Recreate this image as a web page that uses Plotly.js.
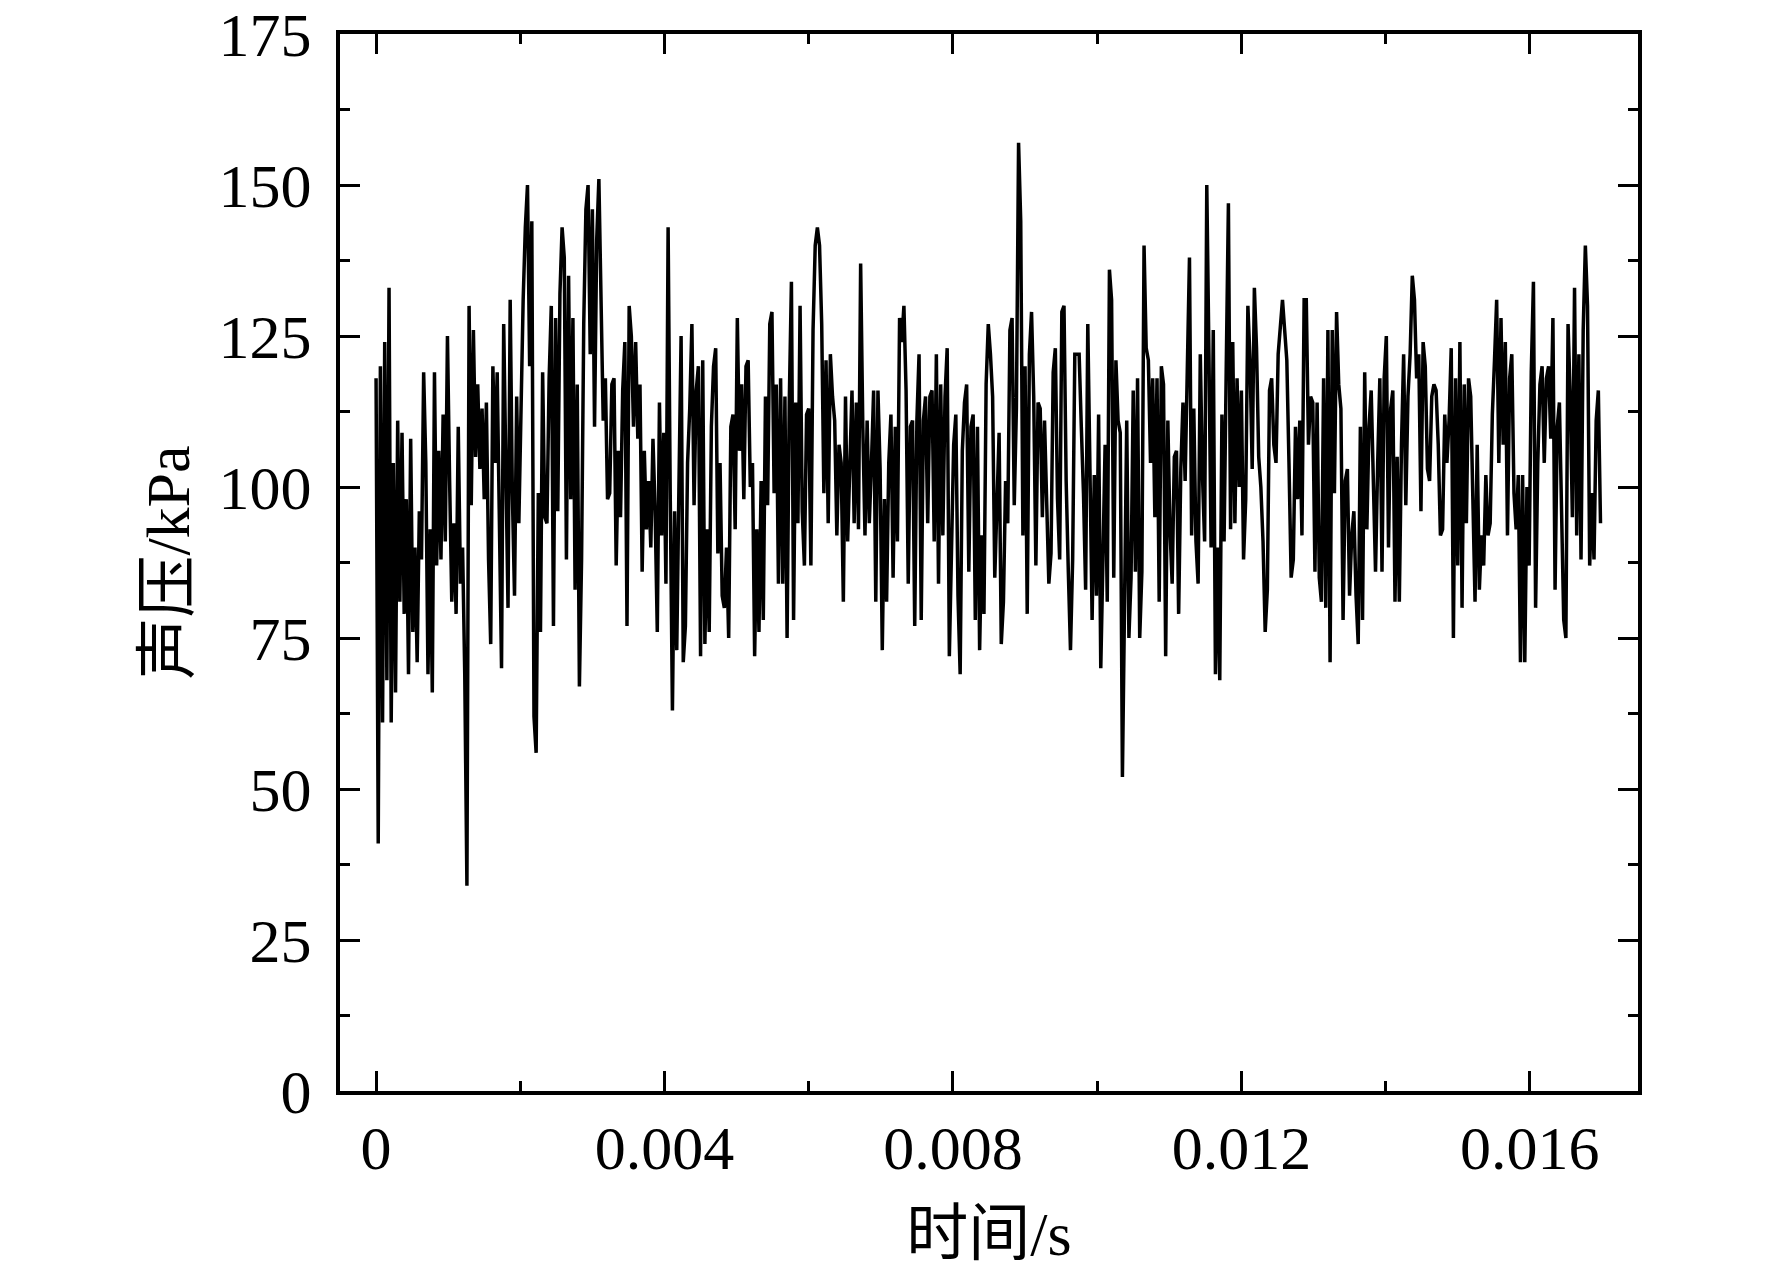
<!DOCTYPE html>
<html>
<head>
<meta charset="utf-8">
<script src="https://cdn.plot.ly/plotly-3.0.1.min.js"></script>
<style>
  html, body { margin: 0; padding: 0; background: #fff; }
  #grafico { width: 1772px; height: 1268px; }
</style>
</head>
<body>
<div id="grafico"></div>
<script>
// Señal de presión acústica leída del gráfico original, muestreada cada
// 3e-5 s (leída por tramos de izquierda a derecha; los valores son
// estimaciones a ojo de picos y valles, no una reconstrucción exacta).
const INTERVALO_S = 3e-5;

const presionTramo1 = [118,41,120,61,124,68,133,61,104,66,111,81,109,79,98,69,108,76,90,71,
  96,88,119,104,69,93,66,119,87,106,88,112,91,125,101,81,94,79,110,84,
  90,69,34,130,97,126,105,117,103,113,98,114,88,74,120,104,119,98,70,127,
  100,80,131,99,82,115,94,116,131,143,150,120,144,62,56,99,76,119,95];

const presionTramo2 = [94,118,130,77,128,96,132,143,138,88,135,98,128,83,117,67,88,127,146,150,
  122,146,110,141,151,132,111,118,98,99,117,118,87,106,95,116,124,77,130,125,
  110,124,108,117,86,106,93,101,90,108,96,76,114,92,109,84,143,98,63,96,
  73,100,125,71,77,104,113,127,97,116,120,72,121,74,93,76,110,120,123,89,
  104,82,80];

const presionTramo3 = [90,75,110,112,93,128,106,117,98,120,121,100,104,72,93,76,101,78,115,97,
  127,129,99,117,84,118,84,115,75,114,134,78,114,94,130,96,87,112,113,87,
  126,140,143,140,127,99,121,94,122,115,111,92,107,104,81,115,91,103,116,94,
  114,93,137,110,92,111,94,104,116,81,116,103,73,98,81,104,112,85,110,91,
  128,124,130];

const presionTramo4 = [116,84,110,111,77,111,122,78,111,115,94,115,116,91,122,84,117,92,115,123,
  72,92,107,112,82,69,106,114,117,86,110,112,78,110,73,92,79,117,127,122,
  115,85,95,109,74,81,101,94,126,128,97,113,157,144,92,120,79,122,129,115,
  87,114,113,95,111,97,84,89,119,123,98,88,129,130,101,86,73,88,122,122,
  122,110,99];

const presionTramo5 = [83,127,103,78,102,82,112,70,88,107,81,136,131,85,121,111,109,52,81,111,
  75,85,116,86,118,75,86,140,123,121,104,118,95,118,81,120,117,72,111,93,
  84,105,106,79,103,114,101,119,138,92,113,91,84,122,102,91,150,122,90,126,
  69,90,68,112,91,120,147,93,124,94,118,100,116,88,98,130,121,103,133,123,
  105,100,91];

const presionTramo6 = [76,83,116,118,107,104,122,127,131,126,121,104,85,88,110,98,111,92,131,131,
  107,115,114,86,114,85,81,118,80,126,71,126,99,129,117,113,78,101,103,82,
  92,96,82,74,110,78,119,93,110,116,98,86,104,118,86,118,125,90,113,116,
  81,105,81,107,122,97,115,122,135,131,118,122,96,124,120,103,101,115,117,116,
  107,92];

const presionTramo7 = [93,112,104,111,123,75,118,87,124,80,117,94,118,115,98,81,107,83,92,87,
  102,92,94,112,121,131,104,128,107,124,92,118,122,99,93,102,71,102,71,100,
  87,119,134,80,104,117,120,104,118,120,108,128,83,110,114,96,78,75,127,115,
  95,133,92,122,88,126,140,130,87,99,88,111,116,94];

const presionKPa = [].concat(presionTramo1, presionTramo2, presionTramo3, presionTramo4,
  presionTramo5, presionTramo6, presionTramo7);

const ticksX = [0, 0.004, 0.008, 0.012, 0.016];
const etiquetasX = ['0', '0.004', '0.008', '0.012', '0.016'];
const ticksY = [0, 25, 50, 75, 100, 125, 150, 175];

const FUENTE = '"Liberation Serif", "Times New Roman", "Noto Sans CJK SC", serif';

// eje con marco completo, ticks hacia adentro y menores a mitad de paso
function ejeBase() {
  return {
    showline: true, linecolor: '#000', linewidth: 4, mirror: 'ticks',
    ticks: 'inside', ticklen: 20, tickwidth: 3, tickcolor: '#000',
    showgrid: false, zeroline: false,
    tickfont: { family: FUENTE, size: 62, color: '#000' },
  };
}

const traza = {
  type: 'scatter',
  mode: 'lines',
  x0: 0,
  dx: INTERVALO_S,
  y: presionKPa,
  line: { color: '#000', width: 3.5 },
  hoverinfo: 'skip',
};

const layout = {
  width: 1772,
  height: 1268,
  margin: { l: 340, r: 134, t: 34, b: 177 },
  showlegend: false,
  paper_bgcolor: '#fff',
  plot_bgcolor: '#fff',
  font: { family: FUENTE, color: '#000' },
  xaxis: Object.assign(ejeBase(), {
    range: [-0.0005, 0.0175],
    tickmode: 'array', tickvals: ticksX, ticktext: etiquetasX,
    ticklabelstandoff: 0,
    minor: { dtick: 0.002, tick0: 0, ticks: 'inside', ticklen: 10, tickwidth: 3, tickcolor: '#000' },
    title: { text: '时间/s', font: { family: FUENTE, size: 62, color: '#000' }, standoff: 36 },
  }),
  yaxis: Object.assign(ejeBase(), {
    range: [0, 175.02],
    tickmode: 'array', tickvals: ticksY,
    ticklabelstandoff: 12,
    minor: { dtick: 12.5, tick0: 0, ticks: 'inside', ticklen: 10, tickwidth: 3, tickcolor: '#000' },
    title: { text: '声压/kPa', font: { family: FUENTE, size: 62, color: '#000' }, standoff: 10 },
  }),
};

Plotly.newPlot('grafico', [traza], layout, { displayModeBar: false, staticPlot: true });
</script>
</body>
</html>
